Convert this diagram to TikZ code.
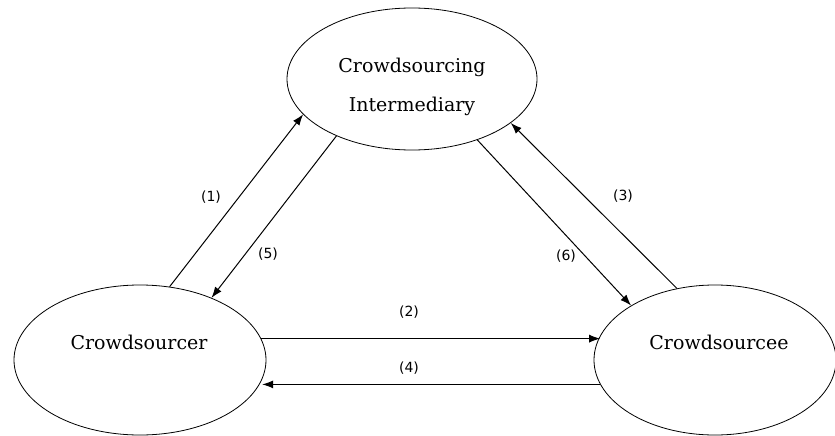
\documentclass[tikz,border=0pt]{standalone}
\usepackage{fontspec}
\setmainfont{DejaVu Serif}
\newfontfamily\numfont{DejaVu Sans}
\usetikzlibrary{shapes.geometric,arrows.meta}

\tikzset{
    party/.style={draw, ellipse, line width=0.8pt, inner sep=0pt},
    flow/.style={-{Latex[length=11pt,width=8pt]}, line width=1pt},
    num/.style={font=\numfont\fontsize{14}{16}\selectfont}
}

\begin{document}
\begin{tikzpicture}[x=1pt, y=-1pt, font=\fontsize{19}{23}\selectfont]
    \useasboundingbox (0,0) rectangle (835,436);
    \node[party, minimum width=250pt, minimum height=142pt] (mid) at (412,79) {};
    \node[party, minimum width=252pt, minimum height=150pt] (sourcer) at (140,360) {};
    \node[party, minimum width=242pt, minimum height=150pt] (sourcee) at (715,360) {};
    \node[align=center] (midtext) at (412,87) {Crowdsourcing\\[16pt]Intermediary};
    \node (sourcertext) at (139,342) {Crowdsourcer};
    \node (sourceetext) at (719,342) {Crowdsourcee};
    % flows between the parties
    \draw[flow] (sourcer.68) -- (mid.-162);
    \draw[flow] (mid.-143) -- (sourcer.41);
    \draw[flow] (sourcer.10) -- (sourcee.168 |- sourcer.10);
    \draw[flow] (sourcee.-168) -- (sourcer.-9 |- sourcee.-168);
    \draw[flow] (sourcee.118) -- (mid.-24);
    \draw[flow] (mid.-43) -- (sourcee.147);
    % numbers
    \node[num] (n1) at (211,197) {(1)};
    \node[num] (n2) at (409,312) {(2)};
    \node[num] (n3) at (623,196) {(3)};
    \node[num] (n4) at (409,368) {(4)};
    \node[num] (n5) at (268,254) {(5)};
    \node[num] (n6) at (566,256) {(6)};
\end{tikzpicture}
\end{document}
